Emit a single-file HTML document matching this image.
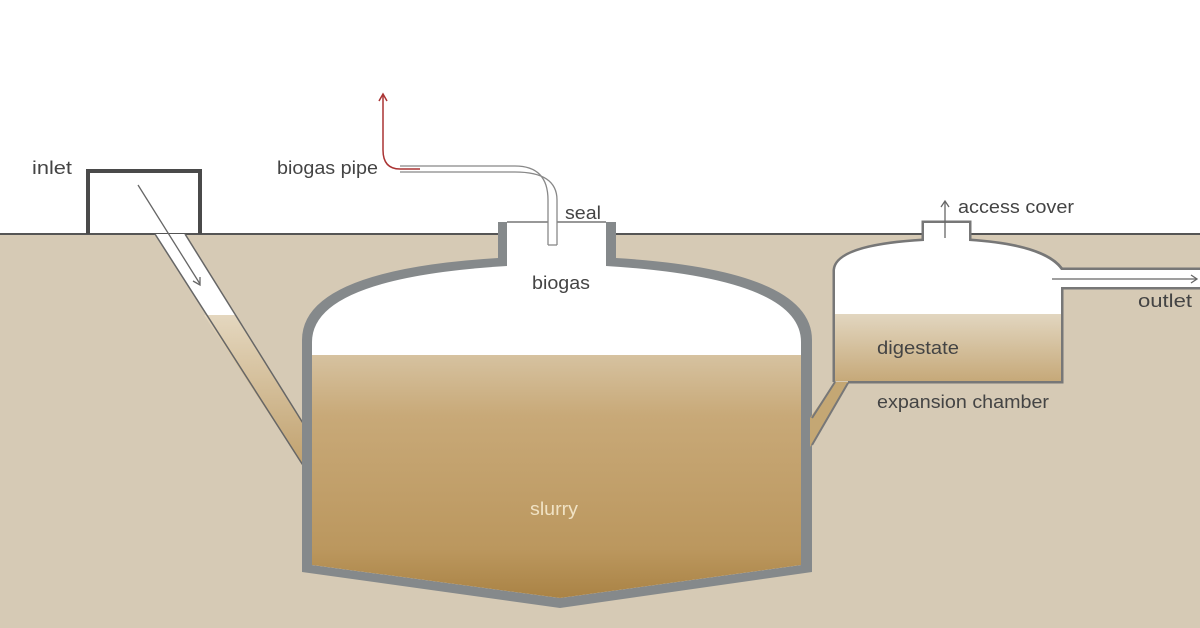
<!DOCTYPE html>
<html><head><meta charset="utf-8"><style>
html,body{margin:0;padding:0;background:#fff}
svg{display:block}
text{font-family:"Liberation Sans",sans-serif;font-size:18px;fill:#444}
</style></head><body>
<svg width="1200" height="628" viewBox="0 0 1200 628" xmlns="http://www.w3.org/2000/svg">
<defs>
<linearGradient id="sl" x1="0" y1="0" x2="0" y2="1">
<stop offset="0" stop-color="#d6c2a0"/><stop offset="0.25" stop-color="#c8a978"/><stop offset="0.8" stop-color="#bb975e"/><stop offset="1" stop-color="#aa8345"/>
</linearGradient>
<linearGradient id="dg" x1="0" y1="0" x2="0" y2="1">
<stop offset="0" stop-color="#e2d6c0"/><stop offset="1" stop-color="#c6a979"/>
</linearGradient>
<linearGradient id="ip" x1="0" y1="0" x2="0" y2="1">
<stop offset="0" stop-color="#e4d7bf"/><stop offset="1" stop-color="#c0a06c"/>
</linearGradient>
</defs>
<rect x="0" y="234" width="1200" height="394" fill="#d6cab5"/>
<line x1="0" y1="234" x2="1200" y2="234" stroke="#555" stroke-width="2"/>
<path d="M88 234 V171 H200 V234" fill="none" stroke="#4a4a4a" stroke-width="4"/>
<polygon points="155,234 185,234 306,428 306,470" fill="#fff"/>
<polygon points="204,315 235,315 306,428 306,470" fill="url(#ip)"/>
<line x1="155" y1="234" x2="306" y2="470" stroke="#666" stroke-width="1.5"/>
<line x1="185" y1="234" x2="306" y2="428" stroke="#666" stroke-width="1.5"/>
<line x1="138" y1="185" x2="200" y2="284" stroke="#666" stroke-width="1.3"/>
<path d="M193 281 L200 285 L200 277" fill="none" stroke="#666" stroke-width="1.3"/>
<path d="M302 572 V340 Q302 270 498 258 V222 H507 V264 L606 264 V222 H616 V258 Q812 270 812 340 V572 L560 608 Z" fill="#85898b"/>
<path d="M312 565 V342 Q312 278 507 266 L606 266 Q801 278 801 342 V565 L560 598 Z" fill="#fff"/>
<path d="M312 565 V355 H801 V565 L560 598 Z" fill="url(#sl)"/>
<rect x="507" y="222" width="99" height="46" fill="#fff"/>
<line x1="507" y1="222" x2="606" y2="222" stroke="#777" stroke-width="1.5"/>
<polygon points="810,418 835,382 849,382 810,447" fill="#c4a774"/>
<line x1="812" y1="418" x2="835" y2="382" stroke="#777" stroke-width="2"/>
<line x1="812" y1="445" x2="848" y2="383" stroke="#777" stroke-width="2"/>
<path d="M834 382 V270 Q836 245 923 240 V222 H970 V240 Q1045 245 1062 269 H1200 M1200 288 H1062 V382 H848" fill="none" stroke="#777" stroke-width="3"/>
<path d="M835 381 V270 Q837 246 924 241 V223 H969 V241 Q1044 246 1061 270 V381 Z" fill="#fff"/>
<rect x="1061" y="270" width="139" height="17" fill="#fff"/>
<rect x="835" y="314" width="226" height="67" fill="url(#dg)"/>
<line x1="1052" y1="279" x2="1197" y2="279" stroke="#666" stroke-width="1.3"/>
<path d="M1191 275 L1197 279 L1191 283" fill="none" stroke="#666" stroke-width="1.3"/>
<line x1="945" y1="238" x2="945" y2="202" stroke="#666" stroke-width="1.3"/>
<path d="M941 207 L945 201 L949 207" fill="none" stroke="#666" stroke-width="1.3"/>
<path d="M548 245 V200 Q548 166 515 166 H400 L400 172 H515 Q557 172 557 200 V245 Z" fill="#fff" stroke="none"/>
<path d="M548 245 V200 Q548 166 515 166 H400" fill="none" stroke="#888" stroke-width="1.3"/>
<path d="M557 245 V200 Q557 172 515 172 H400" fill="none" stroke="#888" stroke-width="1.3"/>
<line x1="548" y1="245" x2="557" y2="245" stroke="#888" stroke-width="1.3"/>
<path d="M420 169 H400 Q383 169 383 150 V95" fill="none" stroke="#a33" stroke-width="1.5"/>
<path d="M379 101 L383 94 L387 101" fill="none" stroke="#a33" stroke-width="1.5"/>
<text x="32" y="174" textLength="40" lengthAdjust="spacingAndGlyphs">inlet</text>
<text x="277" y="174" textLength="101" lengthAdjust="spacingAndGlyphs">biogas pipe</text>
<text x="565" y="219" textLength="36" lengthAdjust="spacingAndGlyphs">seal</text>
<text x="532" y="289" textLength="58" lengthAdjust="spacingAndGlyphs">biogas</text>
<text x="958" y="213" textLength="116" lengthAdjust="spacingAndGlyphs">access cover</text>
<text x="1138" y="307" textLength="54" lengthAdjust="spacingAndGlyphs">outlet</text>
<text x="877" y="354" textLength="82" lengthAdjust="spacingAndGlyphs">digestate</text>
<text x="877" y="408" textLength="172" lengthAdjust="spacingAndGlyphs">expansion chamber</text>
<text x="530" y="515" textLength="48" lengthAdjust="spacingAndGlyphs" style="fill:#f0e2c4">slurry</text>
</svg>
</body></html>
